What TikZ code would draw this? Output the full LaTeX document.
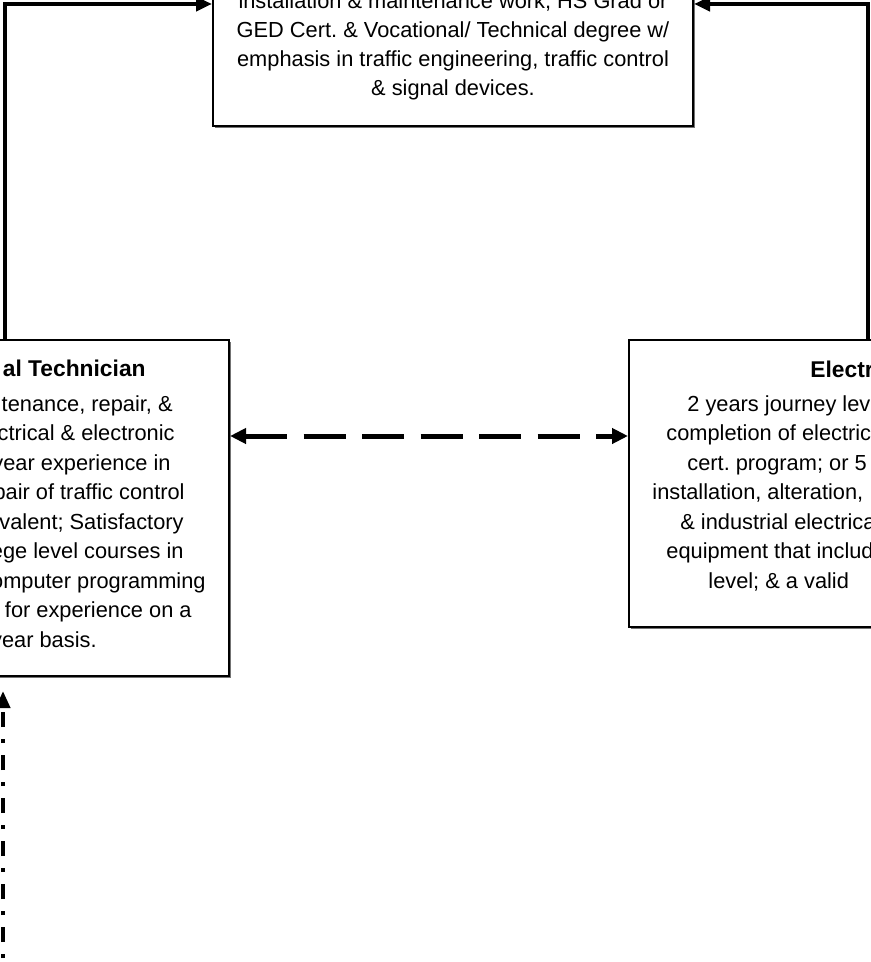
\documentclass[tikz,border=0pt]{standalone}
\usepackage{fontspec}
\setmainfont{Liberation Sans}
\usetikzlibrary{arrows.meta,shadows}
\frenchspacing
\begin{document}
\begin{tikzpicture}[x=0.5pt,y=-0.5pt,
  box/.style={draw=black, line width=1pt, fill=white, inner sep=0pt,
    drop shadow={shadow xshift=1pt, shadow yshift=-1pt, fill=black!55, opacity=1}},
  txt/.style={inner sep=0pt, font=\fontsize{10.9pt}{14.5pt}\selectfont\frenchspacing},
  ttl/.style={inner sep=0pt, font=\fontsize{11.4pt}{14.5pt}\selectfont\bfseries},
  conn/.style={line width=2pt, -{Triangle[length=8pt,width=7pt]}},
  dashconn/.style={line width=2.5pt, dash pattern=on 21pt off 8.25pt,
    {Triangle[length=8pt,width=7.5pt]}-{Triangle[length=8pt,width=7.5pt]}},
  dotconn/.style={line width=2pt, dash pattern=on 7.5pt off 6pt on 2pt off 6pt,
    -{Triangle[length=8.5pt,width=7pt]}}]
\useasboundingbox (0,0) rectangle (871,962);
\clip (0,0) rectangle (871,962);

% boxes
\node[box, minimum width=240pt, minimum height=122pt] (topbox) at (453,4) {};
\node[box, minimum width=224pt, minimum height=168pt] (leftbox) at (5,508) {};
\node[box, minimum width=239pt, minimum height=143.5pt] (rightbox) at (868,483.5) {};

% top box text
\node[txt, anchor=base] (t1) at (453,8.5) {installation \& maintenance work, HS Grad or};
\node[txt, anchor=base] (t2) at (453,37.5) {GED Cert. \& Vocational/ Technical degree w/};
\node[txt, anchor=base] (t3) at (453,66.5) {emphasis in traffic engineering, traffic control};
\node[txt, anchor=base] (t4) at (453,95.5) {\& signal devices.};

% left box text
\node[ttl, anchor=base east] (lt) at (146,376) {al Technician};
\foreach \xx/\t [count=\i] in {173/{tenance, repair, \&}, 175/{ctrical \& electronic},
  171/{year experience in}, 185/{pair of traffic control}, 184/{valent; Satisfactory},
  184/{ege level courses in}, 206/{omputer programming}, 192/{for experience on a},
  97/{year basis.}}
  \node[txt, anchor=base east] (l\i) at ({\xx},{411+29.5*(\i-1)}) {\t};

% right box text
\node[ttl, anchor=base west] (rt) at (810,377) {Electr};
\foreach \xx/\t [count=\i] in {687/{2 years journey lev}, 666/{completion of electric},
  687/{cert. program; or 5 y}, 652/{installation, alteration,}, 680/{\& industrial electrica},
  666/{equipment that includ}, 708/{level; \& a valid}}
  \node[txt, anchor=base west] (r\i) at ({\xx},{411+29.5*(\i-1)}) {\t};

% connectors
\draw[conn] (leftbox.north) |- (topbox.west);
\draw[conn] (rightbox.north) |- (topbox.east);
\coordinate (ya) at (0,436);
\draw[dashconn] (leftbox.east |- ya) -- (rightbox.west |- ya);
\coordinate (dd) at (3,985);
\draw[dotconn, shorten >=7pt] (dd) -- (dd |- leftbox.south);
\end{tikzpicture}
\end{document}
